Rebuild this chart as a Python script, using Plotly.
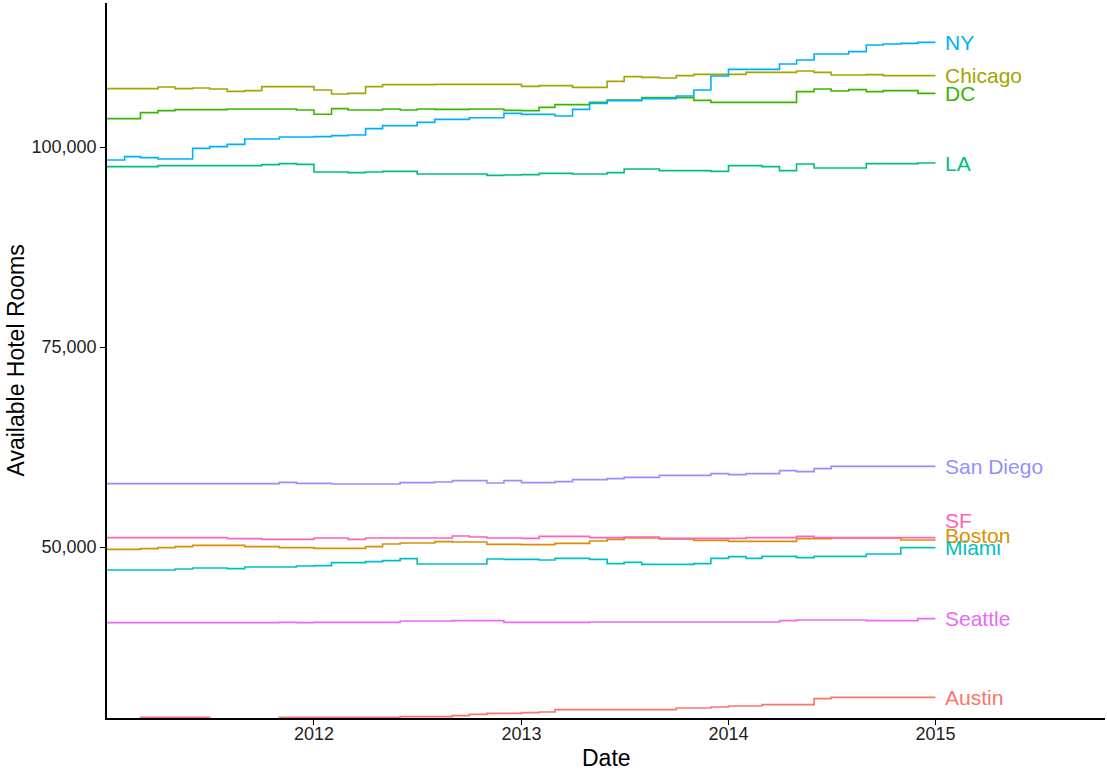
import pandas as pd
import plotly.graph_objects as go

dates = pd.date_range("2011-01-01", "2015-01-01", freq="MS")

cities = ["Austin", "Boston", "Chicago", "DC", "LA", "Miami", "NY", "San Diego", "Seattle", "SF"]
colors = ["#F8766D", "#D89000", "#A3A500", "#39B600", "#00BF7D", "#00BFC4", "#00B0F6", "#9590FF", "#E76BF3", "#FF62BC"]

austin = [28500, 28500, 28708, 28708, 28708, 28708, 28500, 28500, 28500, 28500,
          28708, 28708, 28708, 28708, 28708, 28708, 28708, 28792, 28792, 28792,
          28917, 29083, 29208, 29208, 29292, 29375, 29667, 29667, 29667, 29667,
          29667, 29667, 29667, 29875, 29875, 30000, 30125, 30125, 30292, 30292,
          30292, 31042, 31208, 31208, 31208, 31208, 31208, 31208, 31208]
boston = [49708, 49708, 49792, 49917, 50042, 50208, 50208, 50208, 50042, 50042,
          49917, 49917, 49833, 49833, 49833, 50042, 50375, 50500, 50500, 50667,
          50625, 50625, 50333, 50333, 50292, 50292, 50458, 50458, 50750, 50958,
          51125, 51125, 51000, 51000, 50833, 50833, 50708, 50708, 50708, 50708,
          51042, 51042, 51125, 51125, 51125, 51125, 50875, 50875, 50875]
chicago = [107292, 107292, 107292, 107500, 107292, 107375, 107250, 106958, 107050, 107542,
           107542, 107542, 107125, 106625, 106708, 107542, 107792, 107792, 107792, 107833,
           107833, 107833, 107833, 107833, 107583, 107667, 107667, 107458, 107458, 108208,
           108792, 108708, 108625, 108917, 109083, 109083, 109083, 109333, 109333, 109333,
           109500, 109333, 109000, 109000, 109042, 108917, 108917, 108917, 108917]
dc = [103542, 103542, 104292, 104542, 104667, 104667, 104667, 104750, 104750, 104750,
      104750, 104625, 104100, 104800, 104625, 104625, 104750, 104625, 104750, 104708,
      104708, 104750, 104750, 104583, 104542, 104958, 105292, 105292, 105583, 105875,
      105875, 106167, 106167, 106167, 105833, 105583, 105583, 105583, 105583, 105583,
      106917, 107250, 107000, 107167, 106917, 107042, 107042, 106708, 106708]
la = [97542, 97542, 97542, 97667, 97667, 97667, 97667, 97667, 97667, 97792,
      97917, 97833, 96875, 96875, 96792, 96875, 96958, 96958, 96625, 96625,
      96625, 96625, 96458, 96500, 96542, 96708, 96708, 96625, 96625, 96792,
      97250, 97250, 97042, 97042, 97042, 96958, 97667, 97667, 97542, 97042,
      97875, 97375, 97375, 97375, 97917, 97917, 97917, 98000, 98000]
miami = [47125, 47125, 47125, 47125, 47250, 47375, 47375, 47292, 47500, 47500,
         47500, 47625, 47667, 48042, 48042, 48167, 48292, 48542, 47875, 47875,
         47875, 47875, 48500, 48458, 48458, 48375, 48583, 48583, 48458, 47917,
         48083, 47833, 47833, 47833, 47917, 48583, 48792, 48583, 48833, 48833,
         48667, 48833, 48833, 48833, 49125, 49125, 49917, 49917, 49917]
ny = [98375, 98792, 98667, 98500, 98500, 99833, 100042, 100333, 101000, 101000,
      101250, 101250, 101292, 101417, 101500, 102292, 102667, 102667, 103083, 103458,
      103458, 103650, 103650, 104208, 104083, 104083, 103875, 104708, 105458, 105792,
      105792, 106042, 106042, 106375, 107125, 108875, 109708, 109708, 109708, 110375,
      110875, 111625, 111625, 111917, 112750, 112875, 112958, 113083, 113083]
san_diego = [57917, 57917, 57917, 57917, 57917, 57917, 57917, 57917, 57917, 57917,
             58083, 57958, 57958, 57875, 57875, 57875, 57875, 58042, 58042, 58125,
             58292, 58292, 58000, 58292, 58042, 58042, 58167, 58417, 58417, 58542,
             58708, 58708, 58958, 58958, 58958, 59167, 59042, 59167, 59167, 59542,
             59417, 59792, 60083, 60083, 60083, 60083, 60083, 60083, 60083]
seattle = [40542, 40542, 40542, 40542, 40542, 40542, 40542, 40542, 40542, 40542,
           40583, 40542, 40583, 40583, 40583, 40583, 40583, 40750, 40750, 40750,
           40792, 40792, 40792, 40583, 40583, 40583, 40583, 40583, 40625, 40625,
           40625, 40625, 40625, 40625, 40625, 40625, 40625, 40625, 40625, 40792,
           40875, 40875, 40875, 40875, 40792, 40792, 40792, 41042, 41042]
sf = [51167, 51167, 51167, 51167, 51167, 51167, 51167, 51042, 51042, 50958,
      50958, 50958, 51125, 51125, 50958, 51125, 51125, 51125, 51125, 51125,
      51375, 51250, 51125, 51125, 51083, 51333, 51333, 51333, 51167, 51167,
      51250, 51250, 51083, 51083, 51083, 51083, 51083, 51167, 51167, 51167,
      51333, 51167, 51167, 51167, 51167, 51167, 51167, 51167, 51167]

series = [austin, boston, chicago, dc, la, miami, ny, san_diego, seattle, sf]
label_yshift = [0, 5, 0, 0, 0, 0, 0, 0, 0, 17]

y_tickvals = [50000, 75000, 100000]
y_ticktext = ["50,000", "75,000", "100,000"]
x_tickvals = ["2012-01-01", "2013-01-01", "2014-01-01", "2015-01-01"]
x_ticktext = ["2012", "2013", "2014", "2015"]

FONT = "Liberation Sans, Arial, Helvetica, sans-serif"

fig = go.Figure()
for name, vals, col in zip(cities, series, colors):
    assert len(vals) == len(dates), name
    fig.add_trace(go.Scatter(x=dates, y=vals, mode="lines", name=name,
                             line=dict(color=col, width=1.6, shape="hv"),
                             hoverinfo="x+y+name"))

for name, vals, col, ys in zip(cities, series, colors, label_yshift):
    fig.add_annotation(x=dates[-1], y=vals[-1], text=name, showarrow=False,
                       xanchor="left", yanchor="middle", xshift=8, yshift=ys,
                       font=dict(family=FONT, size=21, color=col))

# axis titles
fig.add_annotation(text="Date", xref="paper", yref="paper", x=0.5, y=0,
                   xanchor="center", yanchor="middle", yshift=-40, showarrow=False,
                   font=dict(family=FONT, size=23, color="black"))
fig.add_annotation(text="Available Hotel Rooms", xref="paper", yref="paper", x=0, y=0.5,
                   xanchor="center", yanchor="middle", xshift=-92, textangle=-90,
                   showarrow=False, font=dict(family=FONT, size=23, color="black"))

fig.update_layout(
    width=1107, height=771,
    margin=dict(l=107, r=2, t=3, b=53, autoexpand=False),
    plot_bgcolor="white", paper_bgcolor="white",
    showlegend=False,
    font=dict(family=FONT, color="black"),
)
fig.update_xaxes(
    type="date", range=["2011-01-01", "2015-10-27"], automargin=False,
    tickvals=x_tickvals, ticktext=x_ticktext,
    showline=True, linecolor="black", linewidth=1.5,
    ticks="outside", ticklen=5, tickcolor="black", tickwidth=1.2,
    showgrid=False, zeroline=False,
    tickfont=dict(size=18, color="#222222"),
    ticklabelstandoff=-6,
)
fig.update_yaxes(
    range=[28625, 118000], automargin=False,
    tickvals=y_tickvals, ticktext=y_ticktext,
    showline=True, linecolor="black", linewidth=1.5,
    ticks="outside", ticklen=5, tickcolor="black", tickwidth=1.2,
    showgrid=False, zeroline=False,
    tickfont=dict(size=18, color="#222222"),
)

fig.write_html("out.html", config={"displayModeBar": False},
               post_script="document.body.style.margin='0';document.body.style.overflow='hidden';")
